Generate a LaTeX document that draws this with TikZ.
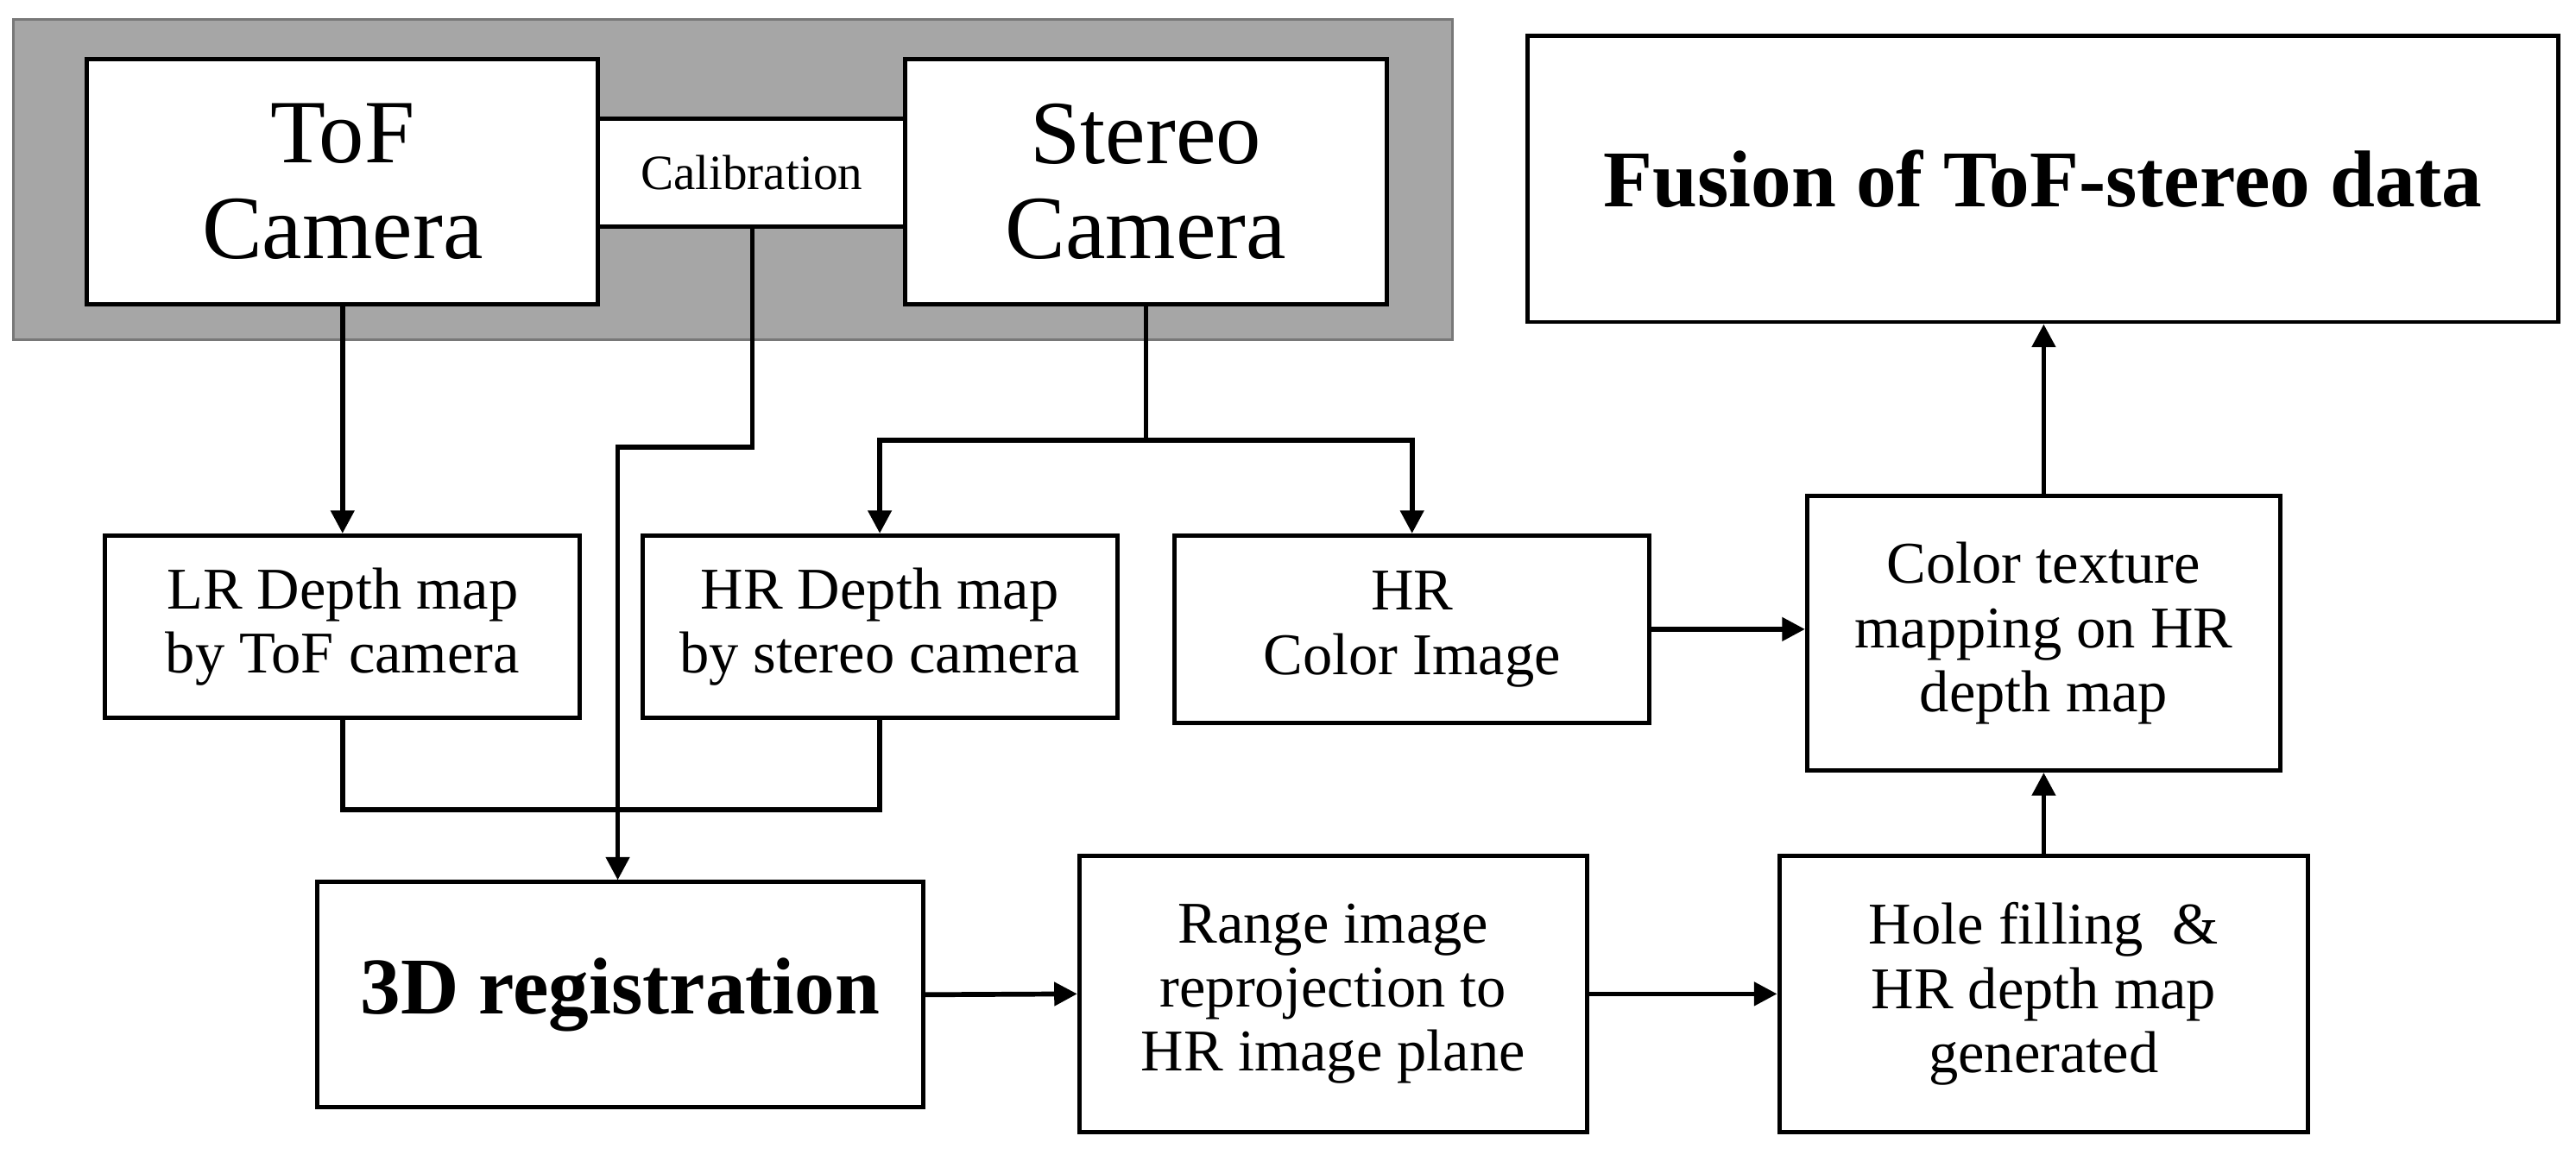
\documentclass[tikz,border=0pt]{standalone}
\usepackage{fontspec}
\setmainfont{Liberation Serif}
\usetikzlibrary{arrows.meta}
\begin{document}
\begin{tikzpicture}[x=0.5pt,y=-0.5pt,
 box/.style={draw=black,line width=1.3pt,fill=white,align=center,inner sep=0pt},
 big/.style={font=\fontsize{27.5}{29}\selectfont},
 mid/.style={font=\fontsize{18}{19.5}\selectfont},
 bbold/.style={font=\fontsize{24.5}{28}\selectfont\bfseries},
 ln/.style={line width=1.5pt},
 ar/.style={line width=1.5pt,-{Triangle[length=7pt,width=7pt]}}]
\useasboundingbox[fill=white] (0,0) rectangle (1568,703);
\fill[fill={rgb,255:red,166;green,166;blue,166},draw={rgb,255:red,120;green,120;blue,120},line width=0.8pt] (8,12) rectangle (884,207);
\node[box,big,minimum width=155.5pt,minimum height=74.5pt] (tof) at (208.5,110.5) {ToF\\Camera};
\node[box,font=\fontsize{15}{17}\selectfont,minimum width=93.5pt,minimum height=33pt] (cal) at (457.5,105) {Calibration};
\node[box,big,minimum width=146.5pt,minimum height=74.5pt] (st) at (697.5,110.5) {Stereo\\Camera};
\node[box,bbold,minimum width=313.5pt,minimum height=87pt] (fu) at (1243.5,109) {Fusion of ToF-stereo data};
\node[box,mid,minimum width=144.5pt,minimum height=55.5pt] (lr) at (208.5,381.5) {LR Depth map\\by ToF camera};
\node[box,mid,minimum width=144.5pt,minimum height=55.5pt] (hrd) at (535.5,381.5) {HR Depth map\\by stereo camera};
\node[box,mid,minimum width=144.5pt,minimum height=57pt] (hrc) at (859.5,383) {HR\\Color Image};
\node[box,mid,minimum width=144pt,minimum height=83.5pt] (ct) at (1244,385.5) {Color texture\\mapping on HR\\depth map};
\node[box,bbold,minimum width=184.5pt,minimum height=68.5pt] (reg) at (377.5,605.5) {3D registration};
\node[box,mid,minimum width=154.5pt,minimum height=84pt] (rg) at (811.5,605) {Range image\\reprojection to\\HR image plane};
\node[box,mid,minimum width=161pt,minimum height=84pt] (ho) at (1244,605) {Hole filling \ \&\\HR depth map\\generated};
\draw[ar] (tof.south) -- (lr.north);
\coordinate (sj) at (697.5,268);
\draw[ln] (st.south) -- (sj);
\draw[ar] (sj) -| (hrd.north);
\draw[ar] (sj) -| (hrc.north);
\coordinate (c1) at (458,272);
\coordinate (c2) at (376,272);
\draw[ar] (cal.south -| c1) -- (c1) -- (c2) -- (c2 |- reg.north);
\coordinate (j1) at (208.5,493);
\coordinate (j2) at (535.5,493);
\draw[ln] (lr.south) -- (j1) -- (j2) -- (hrd.south);
\draw[ar] (hrc.east) -- (ct.west |- hrc.east);
\draw[ar] (ct.north) -- (fu.south -| ct.north);
\draw[ar] (ho.north) -- (ct.south);
\draw[ar] (reg.east) -- (rg.west);
\draw[ar] (rg.east) -- (ho.west);
\end{tikzpicture}
\end{document}
